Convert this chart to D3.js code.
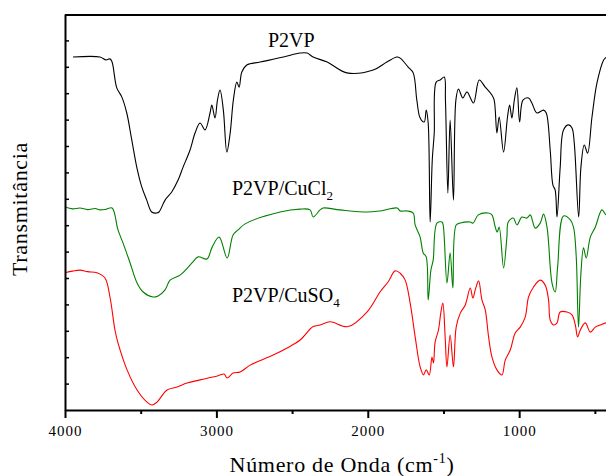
<!DOCTYPE html>
<html>
<head>
<meta charset="utf-8">
<script src="https://cdn.jsdelivr.net/npm/d3@7"></script>
<style>
  body { margin: 0; background: #fff; }
  svg text { font-family: "Liberation Serif", "Times New Roman", serif; fill: #000; }
</style>
</head>
<body>
<div id="chart"></div>
<script>
// FTIR spectra, wavenumber (cm-1) vs transmittance (arbitrary units, offset)
var p2vpWn = [3947,3769,3729,3703,3689,3658,3625,3592,3559,3526,3493,3460,3427,3394,3379,3339,3295,3253,3220,3174,3141,3108,3075,3042,3030,3009,2993,2976,2954,2931,2909,2888,2865,2850,2832,2799,2711,2557,2447,2401,2361,2268,2138,1964,1874,1808,1786,1733,1700,1676,1654,1627,1614,1601,1588,1574,1561,1548,1522,1495,1487,1471,1456,1434,1418,1401,1372,1345,1302,1264,1224,1180,1165,1147,1132,1103,1077,1063,1048,1032,1015,997,975,938,916,883,839,821,795,777,762,750,729,707,674,651,636,607,592,570,548,519,486,442,424,400];
var p2vpT = [133.7,133.7,132.6,133.0,131.8,122.0,118.6,112.5,102.3,92.0,84.5,79.5,75.0,74.6,75.0,79.5,82.6,87.1,92.0,98.5,104.9,108.7,106.1,112.5,115.5,110.6,117.4,121.2,113.6,97.7,104.9,117.4,124.2,122.3,128.0,130.7,131.8,133.7,135.2,135.2,133.7,131.8,127.7,128.8,131.8,133.7,133.3,129.9,127.7,117.4,110.6,109.1,113.6,108.7,71.2,94.7,104.9,124.2,125.0,126.1,117.4,82.2,109.8,79.5,117.4,121.6,118.2,120.5,116.3,125.0,122.3,119.3,117.4,104.9,111.0,97.7,111.0,115.5,110.6,117.4,122.0,109.1,117.4,118.2,116.3,112.5,113.6,112.5,98.5,85.2,83.3,73.1,92.0,106.1,108.0,106.8,101.1,73.1,92.0,100.4,97.3,111.0,123.9,132.6,133.7,135.6];

var cuclWn = [4000,3950,3901,3850,3800,3769,3730,3689,3650,3617,3570,3524,3484,3418,3385,3339,3306,3240,3161,3121,3062,3028,2982,2929,2890,2857,2810,2579,2447,2381,2361,2315,2295,2183,2004,1918,1806,1786,1740,1700,1687,1654,1634,1614,1601,1583,1568,1543,1510,1502,1477,1456,1438,1416,1389,1323,1304,1270,1204,1180,1158,1145,1132,1103,1081,1072,1039,1015,982,949,927,894,861,839,816,783,762,746,707,662,641,623,608,592,575,557,530,497,453,425,400];
var cuclT = [76.9,76.2,76.5,75.9,76.3,75.8,76.0,76.5,68.2,63.3,55.7,48.1,44.7,42.8,43.2,45.5,49.2,51.1,55.7,58.0,57.2,61.7,65.5,57.6,66.3,68.2,70.5,75.0,76.1,75.8,73.1,75.8,76.5,75.8,75.0,75.4,76.5,75.4,75.4,74.6,70.1,65.5,59.5,58.0,41.7,53.0,56.8,70.8,71.2,70.1,48.1,59.5,46.2,70.1,70.8,71.2,70.8,73.9,74.6,73.9,69.3,67.4,69.3,53.8,65.5,71.2,72.7,70.1,73.1,72.7,73.9,68.9,70.8,74.2,69.3,48.1,44.7,54.2,73.5,72.0,69.3,58.0,31.4,51.9,61.4,57.6,65.5,69.3,75.8,73.9,75.0];

var cusoWn = [4000,3950,3901,3850,3789,3736,3703,3670,3650,3590,3524,3458,3425,3392,3326,3260,3194,3108,2989,2949,2929,2890,2843,2777,2625,2533,2447,2361,2315,2249,2130,2004,1918,1865,1819,1786,1753,1720,1687,1654,1632,1614,1594,1576,1566,1555,1533,1517,1504,1489,1477,1456,1434,1416,1389,1356,1323,1306,1290,1268,1246,1224,1202,1180,1147,1114,1092,1059,1026,993,960,938,905,861,828,806,795,773,750,729,684,651,629,614,596,563,530,497,464,425,400];
var cusoT = [52.0,52.6,53.0,52.4,52.0,50.0,42.8,30.3,25.4,15.2,7.6,3.0,1.9,3.0,7.6,8.7,10.2,11.4,13.0,13.6,12.1,14.0,14.4,17.0,20.8,23.5,26.5,31.6,32.2,33.4,31.6,37.2,44.8,48.6,52.7,51.8,49.2,40.5,27.7,16.3,13.3,15.2,13.3,20.1,17.8,25.8,30.3,37.1,40.5,27.7,16.3,28.4,16.3,31.4,36.7,39.8,46.2,42.4,45.5,48.9,41.7,37.9,27.7,20.1,15.2,13.3,18.9,22.7,29.2,31.4,35.2,42.8,46.6,49.2,47.3,41.7,34.1,32.2,33.0,37.1,37.1,36.0,32.2,27.7,30.3,33.0,29.5,31.4,32.2,33.0,33.3];

var majorTicks = [4000, 3000, 2000, 1000];
var minorTicks = [3500, 2500, 1500, 500];

var width = 606, height = 476;
var plotLeft = 65, plotTop = 14, plotBottom = 410, plotRight = 610;

var svg = d3.select("#chart").append("svg")
    .attr("width", width)
    .attr("height", height);

var x = d3.scaleLinear().domain([4000, 400]).range([plotLeft, plotRight]);
var y = d3.scaleLinear().domain([0, 150]).range([plotBottom, plotTop]);

// clip so the spectra stay in the frame
svg.append("clipPath").attr("id", "plot-clip")
  .append("rect")
    .attr("x", plotLeft).attr("y", plotTop)
    .attr("width", plotRight - plotLeft).attr("height", plotBottom - plotTop);

var series = [
    { wn: p2vpWn, t: p2vpT, color: "#000000" },
    { wn: cuclWn, t: cuclT, color: "#008000" },
    { wn: cusoWn, t: cusoT, color: "#ff0000" }
];

var line = d3.line()
    .x(d => x(d[0]))
    .y(d => y(d[1]))
    .curve(d3.curveCatmullRom.alpha(0.5));

svg.append("g")
    .attr("clip-path", "url(#plot-clip)")
  .selectAll("path")
  .data(series)
  .enter().append("path")
    .attr("d", s => line(d3.zip(s.wn, s.t)))
    .attr("fill", "none")
    .attr("stroke", s => s.color)
    .attr("stroke-width", 1.1)
    .attr("stroke-linejoin", "round");

// top border
svg.append("line")
    .attr("x1", plotLeft).attr("x2", plotRight)
    .attr("y1", plotTop + 1).attr("y2", plotTop + 1)
    .attr("stroke", "#000").attr("stroke-width", 2);

// y axis, ticks pointing in, no labels
var yAxis = svg.append("g")
    .attr("transform", "translate(" + plotLeft + ",0)")
    .call(d3.axisLeft(y).tickValues(d3.range(10, 150, 10)).tickSize(-4).tickSizeOuter(0).tickFormat(""));
yAxis.select(".domain").attr("stroke-width", 2);
yAxis.selectAll(".tick line").attr("stroke-width", 1.5);

// x axis, major ticks with labels
var xAxis = svg.append("g")
    .attr("transform", "translate(0," + plotBottom + ")")
    .call(d3.axisBottom(x).tickValues(majorTicks).tickSize(8).tickSizeOuter(0).tickPadding(7).tickFormat(d3.format("d")));
xAxis.select(".domain").attr("stroke-width", 2);
xAxis.selectAll(".tick line").attr("stroke-width", 2);
xAxis.selectAll(".tick text")
    .style("font-family", "Liberation Serif")
    .style("font-size", "15px")
    .style("letter-spacing", "1px");

// minor ticks
svg.append("g")
    .attr("transform", "translate(0," + plotBottom + ")")
    .call(d3.axisBottom(x).tickValues(minorTicks).tickSize(4).tickFormat(""))
    .call(g => g.select(".domain").remove())
    .selectAll(".tick line").attr("stroke-width", 2);

// axis titles
var xTitle = svg.append("text")
    .attr("x", 342).attr("y", 472)
    .attr("text-anchor", "middle")
    .style("font-size", "22px")
    .style("letter-spacing", "0.7px");
xTitle.append("tspan").text("Número de Onda (cm");
xTitle.append("tspan").attr("dy", -9).style("font-size", "14px").text("-1");
xTitle.append("tspan").attr("dy", 9).text(")");

svg.append("text")
    .attr("transform", "translate(27,209) rotate(-90)")
    .attr("text-anchor", "middle")
    .style("font-size", "22px")
    .style("letter-spacing", "0.7px")
    .text("Transmitância");

// series labels
svg.append("text")
    .attr("x", 268).attr("y", 47)
    .style("font-size", "20px")
    .text("P2VP");

var l2 = svg.append("text")
    .attr("x", 232).attr("y", 195)
    .style("font-size", "20px");
l2.append("tspan").text("P2VP/CuCl");
l2.append("tspan").attr("dy", 5).style("font-size", "13px").text("2");

var l3 = svg.append("text")
    .attr("x", 232).attr("y", 302)
    .style("font-size", "20px");
l3.append("tspan").text("P2VP/CuSO");
l3.append("tspan").attr("dy", 5).style("font-size", "13px").text("4");
</script>
</body>
</html>
